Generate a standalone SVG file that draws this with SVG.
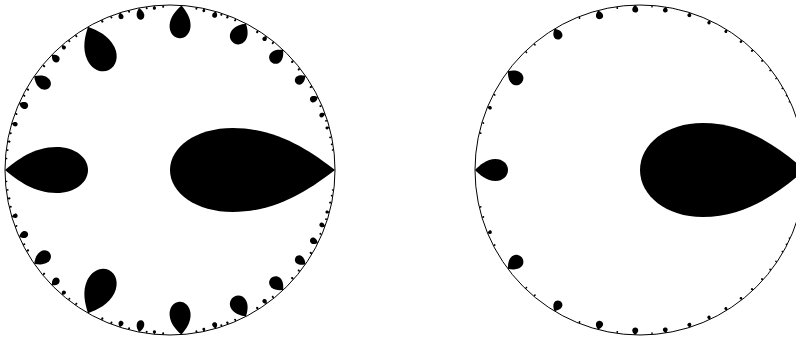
<svg xmlns="http://www.w3.org/2000/svg" width="796" height="339" viewBox="0 0 796 339">
<style>
.rim{fill:none;stroke:#000;stroke-width:1}
.drop{fill:#000}
</style>
<defs>
<path id="d" d="M0,0 C0.15,-0.45 0.35,-1 0.62,-1 C0.84,-1 1,-0.55 1,0 C1,0.55 0.84,1 0.62,1 C0.35,1 0.15,0.45 0,0Z"/>
</defs>
<rect width="796" height="339" fill="#fff"/>
<g id="left-disk" transform="translate(170 170)">
<circle class="rim" r="165"/>
<g id="left-top" class="drop">
<use href="#d" transform="rotate(-7) translate(165) rotate(180) scale(2 0.8)"/>
<use href="#d" transform="rotate(-9) translate(165) rotate(180) scale(2.2 0.9)"/>
<use href="#d" transform="rotate(-11.5) translate(165) rotate(180) scale(2.6 1)"/>
<use href="#d" transform="rotate(-15) translate(165) rotate(180) scale(4 1.5)"/>
<use href="#d" transform="rotate(-17.5) translate(165) rotate(180) scale(2.4 0.9)"/>
<use href="#d" transform="rotate(-19.9) translate(165) rotate(180) scale(6 2.3)"/>
<use href="#d" transform="rotate(-23) translate(165) rotate(180) scale(2.6 1)"/>
<use href="#d" transform="rotate(-26.3) translate(165) rotate(180) scale(8.5 3.2)"/>
<use href="#d" transform="rotate(-30.5) translate(165) rotate(180) scale(2.8 1)"/>
<use href="#d" transform="rotate(-34.8) translate(165) rotate(180) scale(12 4.5)"/>
<use href="#d" transform="rotate(-38) translate(165) rotate(180) scale(2.8 1)"/>
<use href="#d" transform="rotate(-41.5) translate(165) rotate(180) scale(3 1.1)"/>
<use href="#d" transform="rotate(-46.7) translate(165) rotate(182) scale(17 6.5)"/>
<use href="#d" transform="rotate(-51) translate(165) rotate(180) scale(2.8 1)"/>
<use href="#d" transform="rotate(-54.2) translate(165) rotate(180) scale(5.5 2.2)"/>
<use href="#d" transform="rotate(-57.7) translate(165) rotate(180) scale(3 1.1)"/>
<use href="#d" transform="rotate(-62.6) translate(165) rotate(184) scale(23 8.5)"/>
<use href="#d" transform="rotate(-66.5) translate(165) rotate(180) scale(2.8 1)"/>
<use href="#d" transform="rotate(-69.4) translate(165) rotate(180) scale(3.2 1.2)"/>
<use href="#d" transform="rotate(-71.7) translate(165) rotate(180) scale(2.6 1)"/>
<use href="#d" transform="rotate(-73.9) translate(165) rotate(180) scale(6.5 2.5)"/>
<use href="#d" transform="rotate(-78) translate(165) rotate(180) scale(3.6 1.4)"/>
<use href="#d" transform="rotate(-80.7) translate(165) rotate(180) scale(2.6 1)"/>
<use href="#d" transform="rotate(-86) translate(165) rotate(180) scale(33 10.5)"/>
<use href="#d" transform="rotate(-92.4) translate(165) rotate(180) scale(2.6 1)"/>
<use href="#d" transform="rotate(-95.5) translate(165) rotate(180) scale(4 1.6)"/>
<use href="#d" transform="rotate(-98.2) translate(165) rotate(180) scale(2.6 1)"/>
<use href="#d" transform="rotate(-100.8) translate(165) rotate(180) scale(12 3.8)"/>
<use href="#d" transform="rotate(-104.5) translate(165) rotate(180) scale(2.6 1)"/>
<use href="#d" transform="rotate(-107.7) translate(165) rotate(180) scale(6.5 2.5)"/>
<use href="#d" transform="rotate(-111) translate(165) rotate(180) scale(2.6 1)"/>
<use href="#d" transform="rotate(-114.5) translate(165) rotate(180) scale(3 1.1)"/>
<use href="#d" transform="rotate(-119.8) translate(165) rotate(184) scale(48 15)"/>
<use href="#d" transform="rotate(-125) translate(165) rotate(180) scale(2.8 1)"/>
<use href="#d" transform="rotate(-128) translate(165) rotate(180) scale(2.6 1)"/>
<use href="#d" transform="rotate(-130.9) translate(165) rotate(180) scale(5 2)"/>
<use href="#d" transform="rotate(-135.7) translate(165) rotate(180) scale(9.5 3.5)"/>
<use href="#d" transform="rotate(-140.5) translate(165) rotate(180) scale(3 1.1)"/>
<use href="#d" transform="rotate(-145.4) translate(165) rotate(180) scale(19 6.5)"/>
<use href="#d" transform="rotate(-150.5) translate(165) rotate(180) scale(3 1.1)"/>
<use href="#d" transform="rotate(-153) translate(165) rotate(180) scale(2.6 1)"/>
<use href="#d" transform="rotate(-156.1) translate(165) rotate(180) scale(9.5 3.5)"/>
<use href="#d" transform="rotate(-160) translate(165) rotate(180) scale(2.6 1)"/>
<use href="#d" transform="rotate(-163.5) translate(165) rotate(180) scale(6 2.2)"/>
<use href="#d" transform="rotate(-167) translate(165) rotate(180) scale(2.6 1)"/>
<use href="#d" transform="rotate(-170) translate(165) rotate(180) scale(3 1.1)"/>
<use href="#d" transform="rotate(-173) translate(165) rotate(180) scale(2.4 0.9)"/>
<use href="#d" transform="rotate(-176) translate(165) rotate(180) scale(2 0.8)"/>
</g>
<use id="left-bottom" href="#left-top" transform="scale(1 -1)"/>
<use id="left-big" class="drop" href="#d" transform="translate(165) rotate(180) scale(165 42)"/>
<use id="left-side" class="drop" href="#d" transform="translate(-165) scale(83 23)"/>
</g>
<g id="right-disk" transform="translate(640 170)">
<circle class="rim" r="165"/>
<g id="right-top" class="drop">
<use href="#d" transform="rotate(-24.5) translate(165) rotate(180) scale(1.6 0.7)"/>
<use href="#d" transform="rotate(-26.9) translate(165) rotate(180) scale(1.7 0.75)"/>
<use href="#d" transform="rotate(-29.8) translate(165) rotate(180) scale(1.8 0.8)"/>
<use href="#d" transform="rotate(-33.9) translate(165) rotate(180) scale(2 0.85)"/>
<use href="#d" transform="rotate(-37.4) translate(165) rotate(180) scale(2.1 0.9)"/>
<use href="#d" transform="rotate(-41.8) translate(165) rotate(180) scale(2.3 1)"/>
<use href="#d" transform="rotate(-46.8) translate(165) rotate(180) scale(2.6 1.1)"/>
<use href="#d" transform="rotate(-51.8) translate(165) rotate(180) scale(3 1.3)"/>
<use href="#d" transform="rotate(-58.2) translate(165) rotate(180) scale(3.5 1.5)"/>
<use href="#d" transform="rotate(-64.9) translate(165) rotate(180) scale(4 1.7)"/>
<use href="#d" transform="rotate(-72.3) translate(165) rotate(180) scale(4.5 2)"/>
<use href="#d" transform="rotate(-81) translate(165) rotate(180) scale(5.5 2.4)"/>
<use href="#d" transform="rotate(-85.8) translate(165) rotate(180) scale(2.2 0.8)"/>
<use href="#d" transform="rotate(-91.7) translate(165) rotate(180) scale(7.5 3)"/>
<use href="#d" transform="rotate(-98) translate(165) rotate(180) scale(2.4 0.9)"/>
<use href="#d" transform="rotate(-104.7) translate(165) rotate(180) scale(9 3.6)"/>
<use href="#d" transform="rotate(-111.7) translate(165) rotate(180) scale(2.4 0.9)"/>
<use href="#d" transform="rotate(-121.2) translate(165) rotate(182) scale(11.5 4.5)"/>
<use href="#d" transform="rotate(-130) translate(165) rotate(180) scale(2.4 0.9)"/>
<use href="#d" transform="rotate(-134) translate(165) rotate(180) scale(2.4 0.9)"/>
<use href="#d" transform="rotate(-143.2) translate(165) rotate(183) scale(18 7)"/>
<use href="#d" transform="rotate(-152.7) translate(165) rotate(180) scale(2.4 0.9)"/>
<use href="#d" transform="rotate(-157.5) translate(165) rotate(180) scale(4.5 1.8)"/>
<use href="#d" transform="rotate(-163.3) translate(165) rotate(180) scale(2.4 0.9)"/>
<use href="#d" transform="rotate(-167) translate(165) rotate(180) scale(2.4 0.9)"/>
</g>
<use id="right-bottom" href="#right-top" transform="scale(1 -1)"/>
<use id="right-big" class="drop" href="#d" transform="translate(165) rotate(180) scale(165 47)"/>
<use id="right-side" class="drop" href="#d" transform="translate(-165) scale(33 11)"/>
</g>
</svg>
